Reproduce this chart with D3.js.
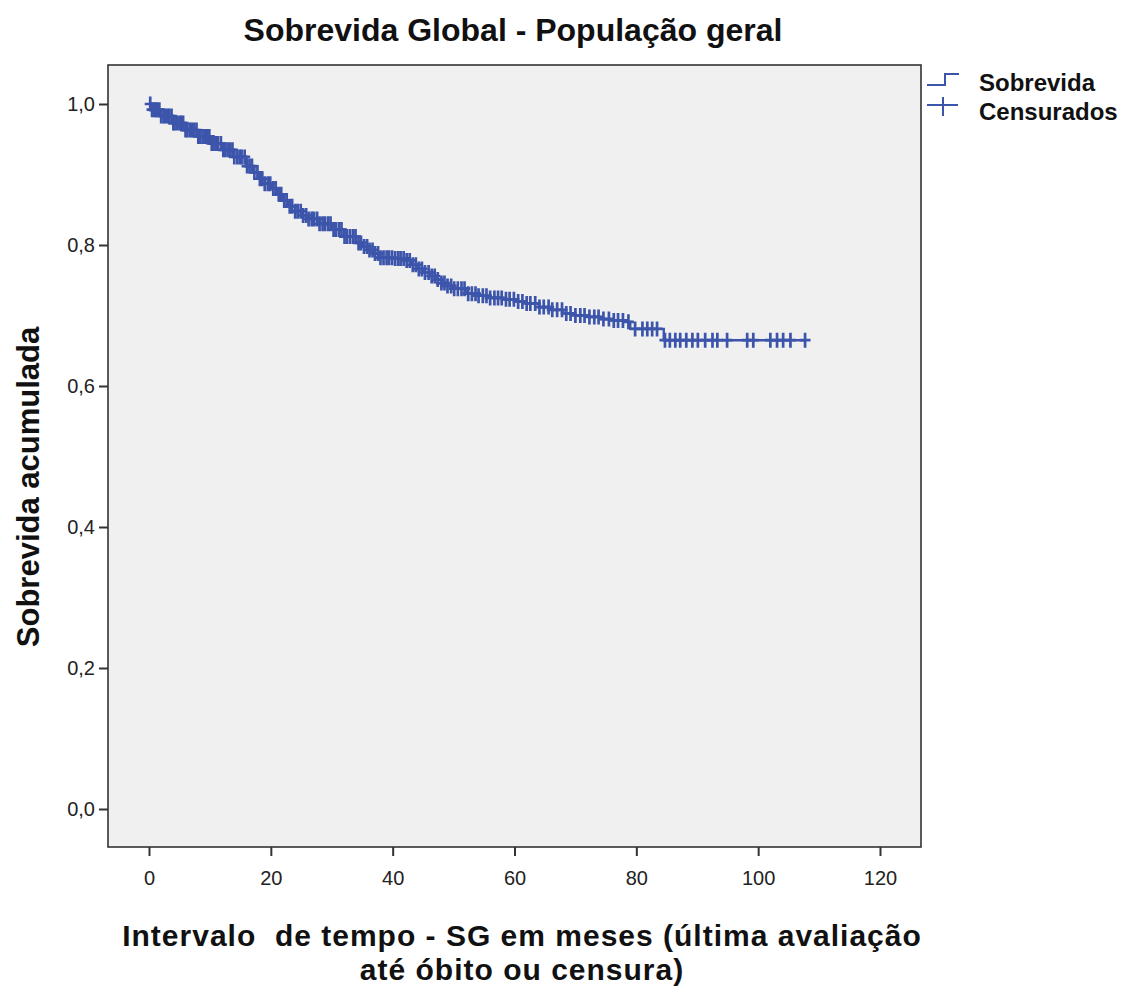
<!DOCTYPE html>
<html>
<head>
<meta charset="utf-8">
<script src="https://cdn.jsdelivr.net/npm/d3@7"></script>
<style>
  html, body { margin: 0; padding: 0; background: #fff; }
  svg text { font-family: "Liberation Sans", Arial, sans-serif; }
</style>
</head>
<body>
<svg id="chart" width="1124" height="987"></svg>
<script>
// Kaplan–Meier estimate: times (months) where the curve steps and survival after each step
const stepTimes = [0, 0.3, 2, 4, 6, 8, 10, 12, 14, 16, 17, 18, 19, 20, 21, 22, 23, 24, 25, 26, 28, 30,
  32, 34, 35, 36, 37, 38, 40, 42, 43, 44, 45, 46, 47, 48, 49, 50, 52, 54, 56, 58, 60, 62, 64, 66, 68,
  70, 72, 74, 76, 78, 79, 84.5];
const stepSurv = [1.000, 0.992, 0.983, 0.973, 0.963, 0.954, 0.944, 0.935, 0.925, 0.912, 0.903, 0.894,
  0.887, 0.880, 0.872, 0.863, 0.855, 0.848, 0.842, 0.837, 0.830, 0.822, 0.812, 0.803, 0.798, 0.793,
  0.788, 0.782, 0.781, 0.778, 0.772, 0.766, 0.761, 0.756, 0.751, 0.746, 0.742, 0.738, 0.731, 0.728,
  0.725, 0.723, 0.720, 0.717, 0.712, 0.708, 0.703, 0.700, 0.698, 0.695, 0.693, 0.691, 0.681, 0.665];

// Censored follow-up times (months)
const censorTimes = [
  0.2, 0.5, 0.8, 1.1, 1.3, 1.7, 2.0, 2.4, 2.6, 3.0, 3.3, 3.7, 4.0, 4.2, 4.6, 5.0, 5.3, 5.6, 6.0, 6.3,
  6.7, 7.0, 7.4, 7.8, 8.1, 8.4, 8.8, 9.2, 9.5, 9.9, 10.3, 10.6, 11.0, 11.3, 11.8, 12.2, 12.5, 12.9,
  13.3, 13.7, 14.0, 14.5, 14.9, 15.2, 15.7, 16.1, 16.5, 16.9, 17.3, 17.8, 18.2, 18.6, 19.0, 19.5, 19.9,
  20.4, 20.8, 21.3, 21.7, 22.2, 22.6, 23.1, 23.5, 24.0, 24.4, 24.9, 25.3, 25.8, 26.2, 26.7, 27.1, 27.6,
  28.0, 28.5, 28.9, 29.4, 29.8, 30.3, 30.7, 31.2, 31.6, 32.1, 32.5, 33.0, 33.5, 33.9, 34.4, 34.8, 35.3,
  35.8, 36.2, 36.7, 37.1, 37.6, 38.0, 38.5, 39.0, 39.4, 39.9,
  40.4, 40.9, 41.3, 41.8, 42.3, 42.8, 43.3, 43.8, 44.3, 44.8, 45.3, 45.9, 46.4, 46.9, 47.4, 48.0, 48.5,
  49.0, 49.6, 50.1, 50.7, 51.3, 51.8, 52.4, 53.0, 53.6, 54.1, 54.8, 55.4, 56.0, 56.7, 57.3, 57.9, 58.6,
  59.2, 59.9,
  60.6, 61.3, 62.0, 62.6, 63.4, 64.1, 64.8, 65.6, 66.2, 67.0, 67.8, 68.5, 69.2, 70.0, 70.8, 71.5, 72.3,
  73.1, 73.8, 74.6, 75.5, 76.3, 77.0, 77.8, 78.7, 79.8, 81.0, 81.8, 82.6, 83.4,
  84.7, 85.5, 86.4, 87.2, 88.2, 89.2, 90.1, 91.3, 92.5, 93.3, 94.9, 98.2, 99.2, 102.0, 103.1, 104.1,
  105.3, 107.7
];

const xTicks = [0, 20, 40, 60, 80, 100, 120];
const yTicks = [0, 0.2, 0.4, 0.6, 0.8, 1.0];
const legendLabels = ["Sobrevida", "Censurados"];

const title = "Sobrevida Global - População geral";
const yTitle = "Sobrevida acumulada";
const xTitleLines = ["Intervalo  de tempo - SG em meses (última avaliação", "até óbito ou censura)"];

const curveColor = "#3c55ab";
const axisColor = "#333";

const frame = { left: 108, top: 65, right: 921, bottom: 847 };

const svg = d3.select("#chart");

const x = d3.scaleLinear().domain([0, 120]).range([149, 880]);
const y = d3.scaleLinear().domain([0, 1]).range([809, 104]);

// plot background and frame
svg.append("rect")
  .attr("x", frame.left).attr("y", frame.top)
  .attr("width", frame.right - frame.left).attr("height", frame.bottom - frame.top)
  .attr("fill", "#f0f0f0").attr("stroke", axisColor).attr("stroke-width", 1.6);

// axes
const fmt = d => d3.format(".1f")(d).replace(".", ",");
const yAxis = svg.append("g")
  .attr("transform", `translate(${frame.left},0)`)
  .call(d3.axisLeft(y).tickValues(yTicks).tickFormat(fmt).tickSize(9).tickPadding(4));
const xAxis = svg.append("g")
  .attr("transform", `translate(0,${frame.bottom})`)
  .call(d3.axisBottom(x).tickValues(xTicks).tickFormat(d3.format("d")).tickSize(9).tickPadding(15));
[yAxis, xAxis].forEach(g => {
  g.select(".domain").remove();
  g.selectAll(".tick line").attr("stroke", axisColor).attr("stroke-width", 2);
  g.selectAll(".tick text").attr("fill", "#222").style("font-size", "20px");
});

// survival function lookup at a given time
const survAt = t => {
  const i = d3.bisectRight(stepTimes, t) - 1;
  return stepSurv[Math.max(0, i)];
};

const pathData = stepTimes.map((t, i) => [t, stepSurv[i]]);
const lastT = d3.max(censorTimes);
pathData.push([lastT, survAt(lastT)]);

svg.append("path")
  .datum(pathData)
  .attr("fill", "none")
  .attr("stroke", curveColor)
  .attr("stroke-width", 2.4)
  .attr("d", d3.line().x(d => x(d[0])).y(d => y(d[1])).curve(d3.curveStepAfter));

// censor marks
const mh = 7.5, mw = 5.5;
svg.append("g")
  .selectAll("path")
  .data(censorTimes)
  .join("path")
  .attr("stroke", curveColor)
  .attr("stroke-width", 2.7)
  .attr("fill", "none")
  .attr("d", t => {
    const cx = x(t), cy = y(survAt(t));
    return `M${cx - mw},${cy}H${cx + mw}M${cx},${cy - mh}V${cy + mh}`;
  });

// title and axis titles
svg.append("text")
  .attr("x", 513).attr("y", 41)
  .attr("text-anchor", "middle")
  .style("font-size", "32px").style("font-weight", "bold").attr("fill", "#111")
  .text(title);

svg.append("text")
  .attr("transform", `translate(39,487) rotate(-90)`)
  .attr("text-anchor", "middle")
  .style("font-size", "31px").style("font-weight", "bold").attr("fill", "#111")
  .text(yTitle);

svg.append("g").selectAll("text")
  .data(xTitleLines)
  .join("text")
  .attr("x", 522).attr("y", (d, i) => 946 + i * 34)
  .attr("text-anchor", "middle")
  .style("font-size", "30px").style("font-weight", "bold").attr("fill", "#111")
  .style("letter-spacing", "1px")
  .style("white-space", "pre")
  .attr("xml:space", "preserve")
  .text(d => d);

// legend
const lg = svg.append("g");
lg.append("path")
  .attr("d", "M927,85H945V74H959")
  .attr("fill", "none").attr("stroke", curveColor).attr("stroke-width", 2);
lg.append("path")
  .attr("d", "M927,105H958M943,97V116")
  .attr("fill", "none").attr("stroke", curveColor).attr("stroke-width", 2);
lg.selectAll("text")
  .data(legendLabels)
  .join("text")
  .attr("x", 979).attr("y", (d, i) => 91 + i * 29)
  .style("font-size", "24px").style("font-weight", "bold").attr("fill", "#111")
  .text(d => d);
</script>
</body>
</html>
